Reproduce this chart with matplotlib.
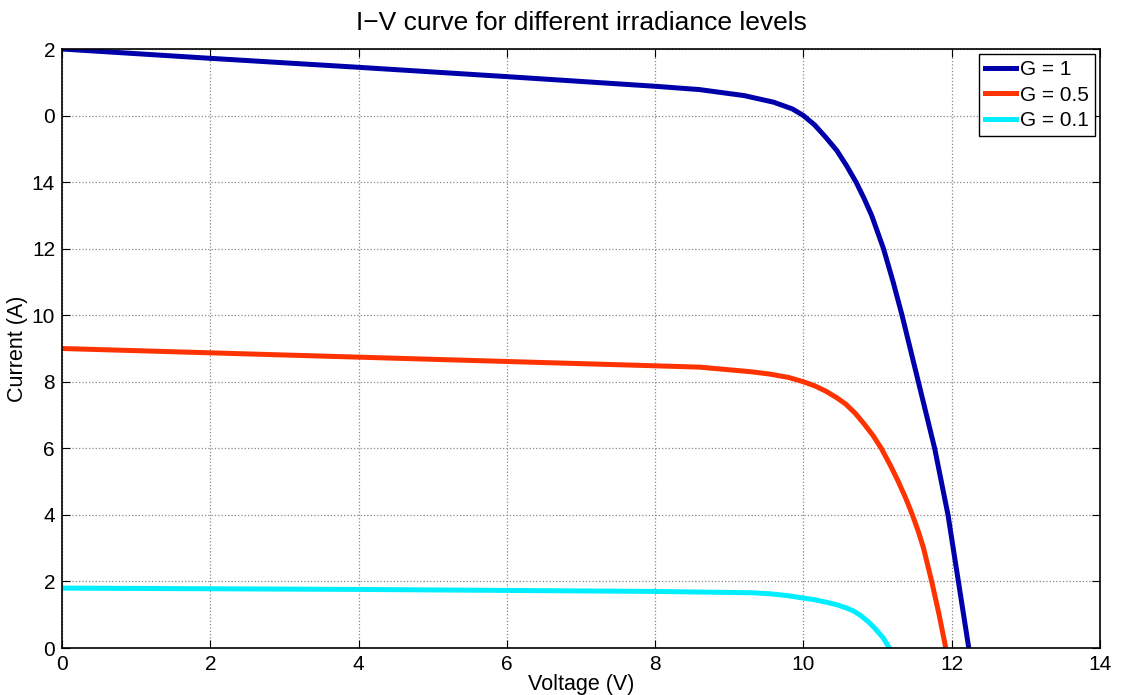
import matplotlib
matplotlib.use('Agg')
import matplotlib.pyplot as plt

plt.rcParams['font.family'] = ['Liberation Sans', 'DejaVu Sans']

v_g1 = [0, 2, 4, 6, 8, 8.6, 9.2, 9.6, 9.85, 10.0, 10.15, 10.3, 10.45, 10.58, 10.71,
        10.82, 10.92, 11.0, 11.08, 11.21, 11.33, 11.44, 11.55, 11.66, 11.77, 11.86, 11.95, 12.02, 12.09, 12.16, 12.23]
i_g1 = [18, 17.72, 17.45, 17.17, 16.88, 16.78, 16.6, 16.4, 16.2, 16.0, 15.72, 15.35, 14.95, 14.5, 14.0,
        13.5, 13.0, 12.5, 12.0, 11.0, 10.0, 9.0, 8.0, 7.0, 6.0, 5.0, 4.0, 3.0, 2.0, 1.0, 0]

v_g05 = [0, 2, 4, 6, 8, 8.6, 9.3, 9.55, 9.8, 10.0, 10.15, 10.3, 10.45, 10.57, 10.7, 10.82,
         10.94, 11.05, 11.17, 11.28, 11.38, 11.47, 11.55, 11.62, 11.73, 11.83, 11.92]
i_g05 = [9.0, 8.87, 8.74, 8.61, 8.48, 8.44, 8.3, 8.23, 8.13, 8.0, 7.88, 7.72, 7.52, 7.33, 7.05, 6.73,
         6.38, 6.0, 5.5, 5.0, 4.5, 4.0, 3.5, 3.0, 2.0, 1.0, 0]

v_g01 = [0, 2, 4, 6, 8, 9.3, 9.55, 9.8, 10.0, 10.15, 10.3, 10.45, 10.57, 10.67, 10.77, 10.87,
         10.96, 11.07, 11.16]
i_g01 = [1.8, 1.78, 1.76, 1.73, 1.7, 1.66, 1.63, 1.57, 1.5, 1.45, 1.38, 1.3, 1.21, 1.12, 0.98, 0.8,
         0.6, 0.32, 0]

yticks = [0, 2, 4, 6, 8, 10, 12, 14, 16, 18]
ylabels = ['0', '2', '4', '6', '8', '10', '12', '14', '0', '2']
xticks = [0, 2, 4, 6, 8, 10, 12, 14]

fig = plt.figure(figsize=(11.22, 6.95), dpi=100)
ax = fig.add_axes([62/1122, 47/695, 1038/1122, 599/695])

ax.plot(v_g1, i_g1, color='#0000aa', lw=3.6, label='G = 1', solid_joinstyle='round')
ax.plot(v_g05, i_g05, color='#ff3300', lw=3.6, label='G = 0.5', solid_joinstyle='round')
ax.plot(v_g01, i_g01, color='#00eeff', lw=3.6, label='G = 0.1', solid_joinstyle='round')

ax.set_xlim(0, 14)
ax.set_ylim(0, 18)
ax.set_xticks(xticks)
ax.set_yticks(yticks)
ax.set_yticklabels(ylabels)
ax.tick_params(direction='in', labelsize=15, length=6, top=True, right=True, pad=5)
ax.grid(True, linestyle=':', color='#888888', lw=0.9)
for s in ax.spines.values():
    s.set_linewidth(1.2)

ax.set_title('I\u2212V curve for different irradiance levels', fontsize=19, pad=14)
ax.set_xlabel('Voltage (V)', fontsize=15.5, labelpad=0)
ax.set_ylabel('Current (A)', fontsize=15.5, labelpad=3)

leg = ax.legend(loc='upper right', fontsize=15, fancybox=False, framealpha=1,
                edgecolor='black', handlelength=1.45, handletextpad=0.2,
                borderpad=0.3, labelspacing=0.3, borderaxespad=0.25)
leg.get_frame().set_linewidth(1.0)

fig.savefig('out.png', dpi=100)
